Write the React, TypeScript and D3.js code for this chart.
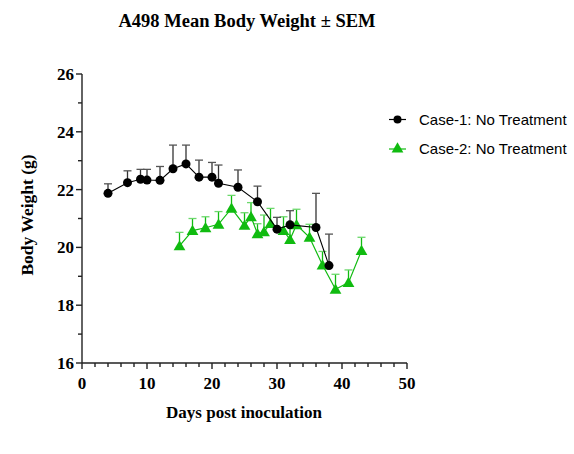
import * as d3 from 'd3';

// body weight, case 1
const case1Days = [4, 7, 9, 10, 12, 14, 16, 18, 20, 21, 24, 27, 30, 32, 36, 38];
const case1Mean = [21.87, 22.24, 22.36, 22.33, 22.32, 22.72, 22.89, 22.43, 22.43, 22.22, 22.08, 21.58, 20.63, 20.78, 20.69, 19.37];
const case1Sem = [0.33, 0.41, 0.34, 0.37, 0.48, 0.82, 0.65, 0.59, 0.51, 0.63, 0.6, 0.54, 0.41, 0.49, 1.18, 1.09];

// body weight, case 2
const case2Days = [15, 17, 19, 21, 23, 25, 26, 27, 28, 29, 31, 32, 33, 35, 37, 39, 41, 43];
const case2Mean = [20.05, 20.58, 20.68, 20.8, 21.35, 20.76, 21.06, 20.47, 20.54, 20.82, 20.58, 20.27, 20.78, 20.35, 19.39, 18.55, 18.78, 19.89];
const case2Sem = [0.47, 0.42, 0.38, 0.44, 0.45, 0.44, 0.49, 0.35, 0.58, 0.53, 0.48, 0.6, 0.54, 0.45, 0.47, 0.52, 0.44, 0.46];

const seriesNames = ['Case-1: No Treatment', 'Case-2: No Treatment'];
const xTicks = [0, 10, 20, 30, 40, 50];
const yTicks = [16, 18, 20, 22, 24, 26];

const W = 574;
const H = 454;
const PLOT = { LEFT: 82, RIGHT: 407, TOP: 74, BOTTOM: 363 };
const BLACK = '#000000';
const GREEN = '#10bb10';
const SERIF = '"Liberation Serif", "Times New Roman", serif';
const SANS = '"Liberation Sans", Arial, sans-serif';

const x = d3.scaleLinear().domain([0, 50]).range([PLOT.LEFT, PLOT.RIGHT]);
const y = d3.scaleLinear().domain([16, 26]).range([PLOT.BOTTOM, PLOT.TOP]);

const xMinor = d3.range(0, 51, 2).filter((v) => v % 10 !== 0);
const yMinor = d3.range(17, 26, 2);

type Pt = { d: number; m: number; s: number };
const zip = (days: number[], mean: number[], sem: number[]): Pt[] =>
  days.map((d, i) => ({ d, m: mean[i], s: sem[i] }));

const case1 = zip(case1Days, case1Mean, case1Sem);
const case2 = zip(case2Days, case2Mean, case2Sem);

const line = d3
  .line<Pt>()
  .x((p) => x(p.d))
  .y((p) => y(p.m));

const tri = d3.symbol().type(d3.symbolTriangle).size(60)() as string;

const ErrorBars = ({ pts, color, capColor }: { pts: Pt[]; color: string; capColor: string }) => (
  <g>
    {pts.map((p, i) => {
      const cx = x(p.d);
      const top = y(p.m + p.s);
      return (
        <g key={i}>
          <line x1={cx} x2={cx} y1={y(p.m)} y2={top} stroke={color} strokeWidth={1.3} />
          <line x1={cx - 4} x2={cx + 4} y1={top} y2={top} stroke={capColor} strokeWidth={1.3} />
        </g>
      );
    })}
  </g>
);

export default function App() {
  return (
    <svg
      width={W}
      height={H}
      style={{ position: 'absolute', left: 0, top: 0, background: '#fff' }}
    >
      <text
        x={247}
        y={27}
        textAnchor="middle"
        fontFamily={SERIF}
        fontWeight="bold"
        fontSize={18.5}
      >
        A498 Mean Body Weight ± SEM
      </text>

      {/* axes */}
      <g stroke="#222" strokeWidth={1.4}>
        <line x1={PLOT.LEFT} x2={PLOT.LEFT} y1={PLOT.TOP} y2={PLOT.BOTTOM} />
        <line x1={PLOT.LEFT} x2={PLOT.RIGHT} y1={PLOT.BOTTOM} y2={PLOT.BOTTOM} />
        {yTicks.map((t) => (
          <line key={t} x1={PLOT.LEFT - 6} x2={PLOT.LEFT} y1={y(t)} y2={y(t)} />
        ))}
        {yMinor.map((t) => (
          <line key={t} x1={PLOT.LEFT - 4} x2={PLOT.LEFT} y1={y(t)} y2={y(t)} />
        ))}
        {xTicks.map((t) => (
          <line key={t} x1={x(t)} x2={x(t)} y1={PLOT.BOTTOM} y2={PLOT.BOTTOM + 6} />
        ))}
        {xMinor.map((t) => (
          <line key={t} x1={x(t)} x2={x(t)} y1={PLOT.BOTTOM} y2={PLOT.BOTTOM + 4} />
        ))}
      </g>
      <g fontFamily={SERIF} fontWeight="bold" fontSize={17}>
        {yTicks.map((t) => (
          <text key={t} x={PLOT.LEFT - 8} y={y(t)} dy="0.35em" textAnchor="end">
            {t}
          </text>
        ))}
        {xTicks.map((t) => (
          <text key={t} x={x(t)} y={PLOT.BOTTOM + 26} textAnchor="middle">
            {t}
          </text>
        ))}
        <text x={244} y={418} textAnchor="middle" fontSize={17}>
          Days post inoculation
        </text>
        <text transform="translate(33, 215) rotate(-90)" textAnchor="middle" fontSize={17.5}>
          Body Weight (g)
        </text>
      </g>

      {/* case 2 */}
      <ErrorBars pts={case2} color={GREEN} capColor="#6cd86c" />
      <path d={line(case2) ?? ''} fill="none" stroke={GREEN} strokeWidth={1.2} />
      {case2.map((p, i) => (
        <path key={i} d={tri} transform={`translate(${x(p.d)}, ${y(p.m) + 1})`} fill={GREEN} />
      ))}

      {/* case 1 */}
      <ErrorBars pts={case1} color="#333" capColor="#555" />
      <path d={line(case1) ?? ''} fill="none" stroke={BLACK} strokeWidth={1.1} />
      {case1.map((p, i) => (
        <circle key={i} cx={x(p.d)} cy={y(p.m)} r={4.5} fill={BLACK} />
      ))}

      {/* legend */}
      <g fontFamily={SANS} fontSize={15}>
        <line x1={389} x2={406} y1={119.5} y2={119.5} stroke={BLACK} strokeWidth={1.2} />
        <circle cx={397.5} cy={119.5} r={4} fill={BLACK} />
        <text x={419} y={119.5} dy="0.35em">{seriesNames[0]}</text>
        <line x1={389} x2={406} y1={149} y2={149} stroke={GREEN} strokeWidth={1.2} />
        <path d={tri} transform="translate(397.5, 149)" fill={GREEN} />
        <text x={419} y={149} dy="0.35em">{seriesNames[1]}</text>
      </g>
    </svg>
  );
}
